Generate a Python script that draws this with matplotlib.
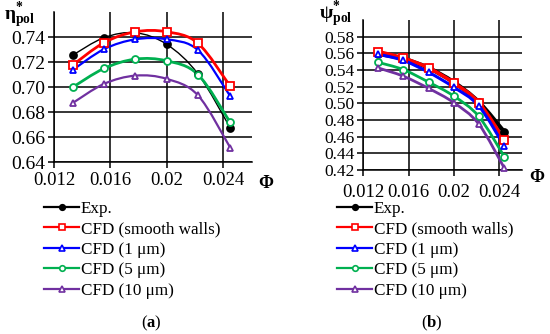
import numpy as np
import matplotlib.pyplot as plt
from matplotlib.path import Path
from matplotlib.patches import PathPatch
from matplotlib.lines import Line2D

plt.rcParams['font.family'] = ['Liberation Serif', 'DejaVu Serif']
plt.rcParams['mathtext.fontset'] = 'custom'
plt.rcParams['mathtext.rm'] = 'Liberation Serif'
plt.rcParams['mathtext.it'] = 'Liberation Serif:italic'
plt.rcParams['mathtext.bf'] = 'Liberation Serif:bold'

# flow coefficient
phi = [0.01332, 0.01554, 0.01777, 0.01998, 0.0222, 0.02448]

# polytropic efficiency (a)
eta_exp = [0.7255, 0.7395, 0.7434, 0.7342, 0.7105, 0.6675]
eta_smooth = [0.7176, 0.7355, 0.7442, 0.7442, 0.7350, 0.7007]
eta_1um = [0.7137, 0.7303, 0.7382, 0.7382, 0.7295, 0.6928]
eta_5um = [0.6999, 0.7149, 0.7224, 0.7210, 0.7100, 0.6718]
eta_10um = [0.6873, 0.7026, 0.7092, 0.7066, 0.6934, 0.6517]

# polytropic head coefficient (b)
psi_exp = [0.5594, 0.5535, 0.5425, 0.5255, 0.5017, 0.4654]
psi_smooth = [0.5622, 0.5543, 0.5425, 0.5247, 0.5010, 0.4555]
psi_1um = [0.5590, 0.5515, 0.5373, 0.5195, 0.4970, 0.4484]
psi_5um = [0.5492, 0.5405, 0.5255, 0.5089, 0.4844, 0.4357]
psi_10um = [0.5425, 0.5326, 0.5180, 0.5010, 0.4753, 0.4219]

labels = ['Exp.', 'CFD (smooth walls)', 'CFD (1 μm)', 'CFD (5 μm)', 'CFD (10 μm)']
colors = ['black', '#FF0000', '#0000FF', '#00B050', '#7030A0']
markers = ['o', 's', '^', 'o', '^']
mfc = ['black', 'white', 'white', 'white', 'white']
msize = [5, 6, 5, 5, 5]


def smooth_curve(ax, x, y, color, lw):
    # Excel-like smoothed line: cubic bezier through the data points
    pts = np.column_stack([x, y])
    n = len(pts)
    verts = [pts[0]]
    codes = [Path.MOVETO]
    for i in range(n - 1):
        p0 = pts[i - 1] if i > 0 else pts[i]
        p1 = pts[i]
        p2 = pts[i + 1]
        p3 = pts[i + 2] if i + 2 < n else pts[i + 1]
        verts += [p1 + (p2 - p0) / 6.0, p2 - (p3 - p1) / 6.0, p2]
        codes += [Path.CURVE4] * 3
    ax.add_patch(PathPatch(Path(verts, codes), fill=False, edgecolor=color,
                           lw=lw, zorder=3, capstyle='round'))


def setup(ax, ylim, yticks, yfs, xpad):
    ax.set_xlim(0.012, 0.026)
    ax.set_ylim(*ylim)
    ax.set_xticks([0.012, 0.016, 0.020, 0.024])
    ax.set_xticklabels(['0.012', '0.016', '0.02', '0.024'], fontsize=13.5)
    ax.set_yticks(yticks)
    ax.set_yticklabels(['%.2f' % v for v in yticks], fontsize=yfs)
    ax.grid(True, color='black', lw=1.1)
    ax.set_axisbelow(True)
    for s in ['top', 'right']:
        ax.spines[s].set_visible(False)
    for s in ['left', 'bottom']:
        ax.spines[s].set_linewidth(1.1)
    ax.tick_params(direction='out', length=4, width=1.1, pad=2)
    ax.tick_params(axis='x', pad=xpad)


fig = plt.figure(figsize=(5.5, 3.34), dpi=100)

# (a)
ax1 = fig.add_axes([0.0982, 0.5141, 0.3594, 0.45])
setup(ax1, (0.64, 0.76), [0.64, 0.66, 0.68, 0.70, 0.72, 0.74], 14, 3)
series_a = [eta_exp, eta_smooth, eta_1um, eta_5um, eta_10um]
lws_a = [1.0, 2.0, 1.6, 2.0, 1.6]
for s, c, m, f, ms, lw in zip(series_a, colors, markers, mfc, msize, lws_a):
    smooth_curve(ax1, phi, s, c, lw)
    ax1.plot(phi, s, ls='none', marker=m, ms=ms, mfc=f, mec=c, mew=1.3, zorder=4,
             clip_on=False)

# (b)
ax2 = fig.add_axes([0.6605, 0.491, 0.288, 0.449])
setup(ax2, (0.42, 0.60), [0.42, 0.44, 0.46, 0.48, 0.50, 0.52, 0.54, 0.56, 0.58], 12.5, 6)
series_b = [psi_exp, psi_smooth, psi_1um, psi_5um, psi_10um]
lws_b = [3.0, 2.6, 2.2, 2.0, 2.0]
for s, c, m, f, ms, lw in zip(series_b, colors, markers, mfc, msize, lws_b):
    smooth_curve(ax2, phi, s, c, lw)
    ax2.plot(phi, s, ls='none', marker=m, ms=ms, mfc=f, mec=c, mew=1.3, zorder=4,
             clip_on=False)

# axis titles
W, H = 550.0, 334.0


def ftext(x, y, s, **kw):
    fig.text(x / W, 1 - y / H, s, **kw)


ftext(4, 20, '$\\mathbf{η}^{\\mathbf{*}}_{\\mathbf{pol}}$', fontsize=14, va='baseline')
ftext(319, 19, '$\\mathbf{ψ}^{\\mathbf{*}}_{\\mathbf{pol}}$', fontsize=14, va='baseline')
ftext(266, 183, 'Φ', fontsize=13, fontweight='bold', ha='center', va='center')
ftext(537, 178, 'Φ', fontsize=13, fontweight='bold', ha='center', va='center')

# legends
handles = [Line2D([], [], color=c, marker=m, mfc=f, mec=c, ms=ms - 1, lw=1.6, mew=1.2)
           for c, m, f, ms in zip(colors, markers, mfc, msize)]
for x0 in [44 / W, 337 / W]:
    fig.legend(handles, labels, loc='upper left', bbox_to_anchor=(x0, 1 - 201 / H),
               frameon=False, fontsize=12.3, handlelength=2.05, handletextpad=0.1,
               labelspacing=0.26, borderpad=0, borderaxespad=0)

# panel letters
ftext(151.5, 323, '($\\mathbf{a}$)', fontsize=12, ha='center', va='center')
ftext(431.5, 323, '($\\mathbf{b}$)', fontsize=12, ha='center', va='center')

fig.savefig('out.png', dpi=100)
